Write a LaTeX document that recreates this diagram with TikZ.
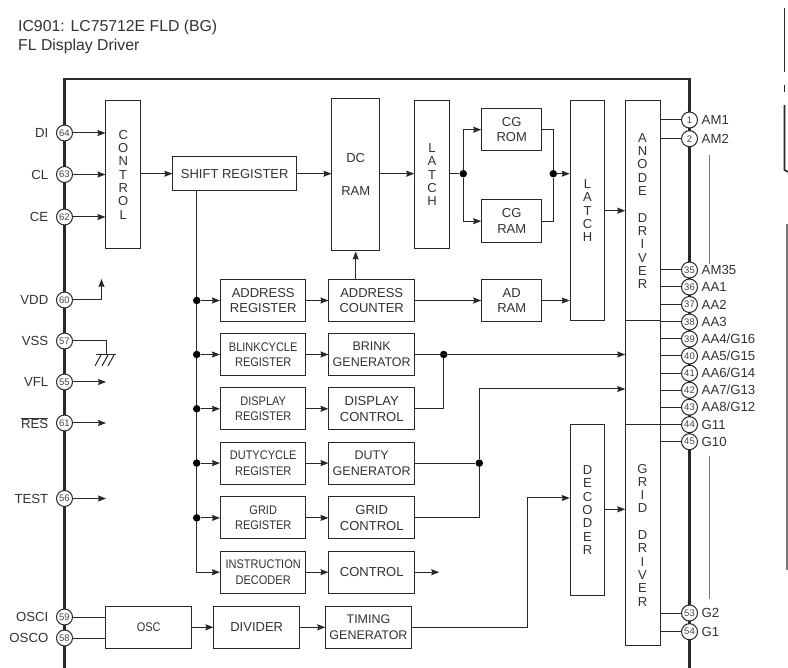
\documentclass[tikz,border=0pt]{standalone}
\usepackage{fontspec}
\setmainfont{Liberation Sans}
\newfontfamily\estreito[FakeStretch=0.88]{Liberation Sans}
\usepackage{tikz}
\usetikzlibrary{arrows.meta,positioning,calc}
\definecolor{ChipInk}{RGB}{40,40,40}
\definecolor{ChipText}{RGB}{50,50,50}
\definecolor{ChipPin}{RGB}{70,70,70}
\definecolor{ChipEdge}{RGB}{120,120,120}
\tikzset{
  bloco/.style={draw=ChipInk, line width=1pt, fill=white, align=center, inner sep=0pt,
                text=ChipText, font=\fontsize{13}{15.5}\selectfont, minimum width=85.5pt, minimum height=42pt},
  blocoger/.style={bloco, font=\fontsize{12.5}{15.5}\selectfont},
  blocoreg/.style={bloco, font=\estreito\fontsize{12.5}{15.5}\selectfont},
  blocoalto/.style={bloco, minimum width=34.5pt, font=\fontsize{13}{13.3}\selectfont},
  blocodriver/.style={draw=ChipInk, line width=1pt, fill=white, inner sep=0pt, minimum width=34.5pt},
  miolo/.style={align=center, inner sep=0pt, text=ChipText, font=\fontsize{13}{13.3}\selectfont},
  seta/.style={-{Stealth[length=8pt,width=6pt,inset=1pt]}, line width=1pt, ChipInk},
  fio/.style={line width=1pt, ChipInk},
  moldura/.style={line width=2.2pt, ChipInk},
  pino/.style={circle, draw=ChipInk, line width=1pt, fill=white, minimum size=16pt, inner sep=0pt,
               text=ChipPin, font=\fontsize{9.5}{10}\selectfont},
  rotulodir/.style={anchor=west, inner sep=0pt, text=ChipText, font=\fontsize{13.2}{14}\selectfont},
  rotuloesq/.style={anchor=east, inner sep=0pt, text=ChipText, font=\fontsize{13.2}{14}\selectfont},
  ponto/.style={circle, fill=black, minimum size=7.5pt, inner sep=0pt},
  titulo/.style={anchor=west, inner sep=0pt, text=ChipText, font=\fontsize{15.8}{18}\selectfont},
}
\begin{document}
\begin{tikzpicture}[x=1pt, y=-1pt, node distance=11.3pt and 22pt]
  \useasboundingbox (0,0) rectangle (788,668);

  % Titulo
  \node[titulo] (tituloA) at (18,27.5) {IC901: LC75712E FLD (BG)};
  \node[titulo] (tituloB) at (18,46.5) {FL Display Driver};

  % Moldura do chip
  \coordinate (cantoA) at (64.5,668);
  \coordinate (cantoB) at (64.5,79);
  \coordinate (cantoC) at (689.5,79);
  \coordinate (cantoD) at (689.5,668);
  \draw[moldura] (cantoA) -- (cantoB) -- (cantoC) -- (cantoD);

  % Restos da pagina vizinha
  \draw[line width=1.6pt, ChipInk] (784.5,8) -- (784.5,72);
  \draw[line width=1.6pt, ChipInk] (784.5,85) -- (784.5,92);
  \draw[line width=1.6pt, ChipInk] (784.5,105) -- (784.5,170) -- (788,172);
  \draw[line width=1.2pt, ChipEdge] (787,224) -- (787,570)
    (787,249) -- (788,249) (787,289) -- (788,289) (787,329) -- (788,329) (787,369) -- (788,369)
    (787,409) -- (788,409) (787,449) -- (788,449) (787,489) -- (788,489) (787,529) -- (788,529);

  % Pinos esquerdos
  \node[pino] (pinDI) at (64.5,133) {64};
  \node[pino] (pinCL) at (64.5,174.5) {63};
  \node[pino] (pinCE) at (64.5,217) {62};
  \node[pino] (pinVDD) at (64.5,300) {60};
  \node[pino] (pinVSS) at (64.5,341) {57};
  \node[pino] (pinVFL) at (64.5,382) {55};
  \node[pino] (pinRES) at (64.5,423) {61};
  \node[pino] (pinTEST) at (64.5,498.5) {56};
  \node[pino] (pinOSCI) at (64.5,617) {59};
  \node[pino] (pinOSCO) at (64.5,638) {58};
  \node[rotuloesq, left=7.5pt of pinDI] (nomeDI) {DI};
  \node[rotuloesq, left=7.5pt of pinCL] (nomeCL) {CL};
  \node[rotuloesq, left=7.5pt of pinCE] (nomeCE) {CE};
  \node[rotuloesq, left=7.5pt of pinVDD] (nomeVDD) {VDD};
  \node[rotuloesq, left=7.5pt of pinVSS] (nomeVSS) {VSS};
  \node[rotuloesq, left=7.5pt of pinVFL] (nomeVFL) {VFL};
  \node[rotuloesq, left=7.5pt of pinRES] (nomeRES) {$\overline{\mbox{RES}}$};
  \node[rotuloesq, left=7.5pt of pinTEST] (nomeTEST) {TEST};
  \node[rotuloesq, left=7.5pt of pinOSCI] (nomeOSCI) {OSCI};
  \node[rotuloesq, left=7.5pt of pinOSCO] (nomeOSCO) {OSCO};

  % Pinos direitos
  \node[pino] (pinAMa) at (689.5,120) {1};
  \node[pino] (pinAMb) at (689.5,138.7) {2};
  \node[pino] (pinAMz) at (689.5,270) {35};
  \node[pino] (pinAAa) at (689.5,287) {36};
  \node[pino] (pinAAb) at (689.5,304.5) {37};
  \node[pino] (pinAAc) at (689.5,322) {38};
  \node[pino] (pinAAd) at (689.5,339) {39};
  \node[pino] (pinAAe) at (689.5,356) {40};
  \node[pino] (pinAAf) at (689.5,373.2) {41};
  \node[pino] (pinAAg) at (689.5,390.2) {42};
  \node[pino] (pinAAh) at (689.5,407.2) {43};
  \node[pino] (pinGk) at (689.5,424.7) {44};
  \node[pino] (pinGj) at (689.5,441.7) {45};
  \node[pino] (pinGb) at (689.5,613) {53};
  \node[pino] (pinGa) at (689.5,631.7) {54};
  \node[rotulodir, right=3.5pt of pinAMa] (nomeAMa) {AM1};
  \node[rotulodir, right=3.5pt of pinAMb] (nomeAMb) {AM2};
  \node[rotulodir, right=3.5pt of pinAMz] (nomeAMz) {AM35};
  \node[rotulodir, right=3.5pt of pinAAa] (nomeAAa) {AA1};
  \node[rotulodir, right=3.5pt of pinAAb] (nomeAAb) {AA2};
  \node[rotulodir, right=3.5pt of pinAAc] (nomeAAc) {AA3};
  \node[rotulodir, right=3.5pt of pinAAd] (nomeAAd) {AA4/G16};
  \node[rotulodir, right=3.5pt of pinAAe] (nomeAAe) {AA5/G15};
  \node[rotulodir, right=3.5pt of pinAAf] (nomeAAf) {AA6/G14};
  \node[rotulodir, right=3.5pt of pinAAg] (nomeAAg) {AA7/G13};
  \node[rotulodir, right=3.5pt of pinAAh] (nomeAAh) {AA8/G12};
  \node[rotulodir, right=3.5pt of pinGk] (nomeGk) {G11};
  \node[rotulodir, right=3.5pt of pinGj] (nomeGj) {G10};
  \node[rotulodir, right=3.5pt of pinGb] (nomeGb) {G2};
  \node[rotulodir, right=3.5pt of pinGa] (nomeGa) {G1};

  % Linha superior
  \node[blocoalto, minimum height=148.5pt] (control) at (123.2,174.7)
    {C\\O\\N\\T\\R\\O\\L};
  \node[bloco, minimum width=123.5pt, minimum height=34.5pt] (shift) at (234.7,173.7) {SHIFT REGISTER};
  \node[bloco, minimum width=47.5pt, minimum height=152.5pt] (dcram) at (355.7,174.7)
    {DC\\[17pt]RAM};
  \node[blocoalto, minimum height=148.5pt] (latchA) at (432,174.7)
    {L\\A\\T\\C\\H};
  \node[bloco, minimum width=60pt, minimum height=42.5pt] (cgrom) at (511.7,129.7) {CG\\ROM};
  \node[bloco, minimum width=60pt, minimum height=42.5pt] (cgram) at (511.7,221.2) {CG\\RAM};
  \node[blocoalto, minimum height=220.5pt] (latchB) at (587.5,210.7)
    {L\\A\\T\\C\\H};

  % Coluna dos registradores
  \node[bloco] (addrReg) at (263.2,300.5) {ADDRESS\\REGISTER};
  \node[bloco, right=of addrReg] (addrCnt) {ADDRESS\\COUNTER};
  \node[blocoreg] (blinkReg) at (263.2,354.5) {BLINKCYCLE\\REGISTER};
  \node[blocoger, right=of blinkReg] (brink) {BRINK\\GENERATOR};
  \node[blocoreg, below=of blinkReg] (dispReg) {DISPLAY\\REGISTER};
  \node[bloco, right=of dispReg] (dispCtl) {DISPLAY\\CONTROL};
  \node[blocoreg, below=of dispReg] (dutyReg) {DUTYCYCLE\\REGISTER};
  \node[blocoger, right=of dutyReg] (duty) {DUTY\\GENERATOR};
  \node[blocoreg, below=of dutyReg, yshift=-0.5pt] (gridReg) {GRID\\REGISTER};
  \node[bloco, right=of gridReg] (gridCtl) {GRID\\CONTROL};
  \node[blocoreg, below=of gridReg] (instr) {INSTRUCTION\\DECODER};
  \node[bloco, right=of instr] (ctl) {CONTROL};
  \node[bloco, minimum width=60pt] (adram) at (511.7,300.5) {AD\\RAM};

  % Linha inferior
  \node[blocoreg] (osc) at (148.7,627.3) {OSC};
  \node[bloco, right=21.5pt of osc] (divider) {DIVIDER};
  \node[blocoger, right=25.3pt of divider] (timing) {TIMING\\GENERATOR};

  % Drivers
  \node[blocodriver, minimum height=220.5pt] (anodeBox) at (643,210.7) {};
  \node[blocodriver, minimum height=103.7pt] (midBox) at (643,372.85) {};
  \node[blocodriver, minimum height=220.3pt] (gridBox) at (643,534.85) {};
  \node[miolo] (anodeTxt) at (642.5,211) {A\\N\\O\\D\\E\\[13.3pt]D\\R\\I\\V\\E\\R};
  \node[miolo] (gridTxt) at (642.5,535) {G\\R\\I\\D\\[13.3pt]D\\R\\I\\V\\E\\R};
  \node[blocoalto, minimum height=170.6pt] (decoder) at (587.5,510) {D\\E\\C\\O\\D\\E\\R};

  % Setas de entrada
  \draw[seta] (pinDI) -- (pinDI -| control.west);
  \draw[seta] (pinCL) -- (pinCL -| control.west);
  \draw[seta] (pinCE) -- (pinCE -| control.west);
  \draw[seta] (pinVDD) -- (101.5,300) -- (101.5,279);
  \draw[fio] (pinVSS) -- (106,341) -- (106,355);
  \draw[fio] (96,355) -- (116,355);
  \draw[fio] (101,355) -- (95,366);
  \draw[fio] (108,355) -- (102,366);
  \draw[fio] (114,355) -- (108,366);
  \draw[seta] (pinVFL) -- (106,382);
  \draw[seta] (pinRES) -- (106,423);
  \draw[seta] (pinTEST) -- (106,498.5);
  \draw[fio] (pinOSCI) -- (pinOSCI -| osc.west);
  \draw[fio] (pinOSCO) -- (pinOSCO -| osc.west);

  % Caminho de dados
  \draw[seta] (control.east |- shift) -- (shift.west);
  \draw[seta] (shift.east) -- (shift -| dcram.west);
  \draw[seta] (dcram.east |- shift) -- (shift -| latchA.west);
  \node[ponto] (nodoA) at (463.3,173.7) {};
  \node[ponto] (nodoB) at (553.3,173.7) {};
  \draw[fio] (latchA.east |- nodoA) -- (nodoA);
  \draw[seta] (nodoA) |- (cgrom.west);
  \draw[seta] (nodoA) |- (cgram.west);
  \draw[fio] (cgrom.east) -| (nodoB);
  \draw[fio] (cgram.east) -| (nodoB);
  \draw[seta] (nodoB) -- (nodoB -| latchB.west);
  \draw[seta] (latchB.east) -- (latchB.east -| anodeBox.west);
  \draw[seta] (addrCnt.north -| dcram) -- (dcram.south);
  \draw[seta] (addrReg) -- (addrCnt);
  \draw[seta] (addrCnt) -- (adram);
  \draw[seta] (adram) -- (adram -| latchB.west);

  % Barramento do registrador
  \coordinate (busFim) at ($(shift.south west)!0.195!(shift.south east)$);
  \draw[seta] (busFim) |- (instr.west);
  \node[ponto] (nodoAddr) at (busFim |- addrReg) {};
  \node[ponto] (nodoBlink) at (busFim |- blinkReg) {};
  \node[ponto] (nodoDisp) at (busFim |- dispReg) {};
  \node[ponto] (nodoDuty) at (busFim |- dutyReg) {};
  \node[ponto] (nodoGrid) at (busFim |- gridReg) {};
  \draw[seta] (nodoAddr) -- (addrReg);
  \draw[seta] (nodoBlink) -- (blinkReg);
  \draw[seta] (nodoDisp) -- (dispReg);
  \draw[seta] (nodoDuty) -- (dutyReg);
  \draw[seta] (nodoGrid) -- (gridReg);
  \draw[seta] (blinkReg) -- (brink);
  \draw[seta] (dispReg) -- (dispCtl);
  \draw[seta] (dutyReg) -- (duty);
  \draw[seta] (gridReg) -- (gridCtl);
  \draw[seta] (instr) -- (ctl);
  \coordinate (ctlFim) at (439.3,572.7);
  \draw[seta] (ctl.east) -- (ctl.east -| ctlFim);

  % Saidas para os drivers
  \coordinate (colBrink) at (443.7,0);
  \coordinate (colDuty) at (479.3,0);
  \node[ponto] (nodoBrink) at (colBrink |- brink) {};
  \draw[seta] (brink) -- (brink -| midBox.west);
  \draw[fio] (dispCtl.east) -| (nodoBrink);
  \node[ponto] (nodoDutyOut) at (colDuty |- duty) {};
  \coordinate (dutyAlvo) at (midBox.west |- 0,389);
  \draw[fio] (duty.east) -- (nodoDutyOut);
  \draw[seta] (nodoDutyOut) |- (dutyAlvo);
  \draw[fio] (gridCtl.east) -| (nodoDutyOut);

  % Oscilador
  \draw[seta] (osc) -- (divider);
  \draw[seta] (divider) -- (timing);
  \coordinate (decAlvo) at (decoder.west |- 0,498);
  \coordinate (decCanto) at (527.3,627.3);
  \draw[seta] (timing.east) -- (decCanto) |- (decAlvo);
  \coordinate (decSai) at (decoder.east |- 0,509.3);
  \draw[seta] (decSai) -- (decSai -| gridBox.west);

  % Saidas dos drivers
  \draw[fio] (pinAMa) -- (pinAMa -| anodeBox.east);
  \draw[fio] (pinAMb) -- (pinAMb -| anodeBox.east);
  \draw[fio] (pinAMz) -- (pinAMz -| anodeBox.east);
  \draw[fio] (pinAAa) -- (pinAAa -| anodeBox.east);
  \draw[fio] (pinAAb) -- (pinAAb -| anodeBox.east);
  \draw[fio] (pinAAc) -- (pinAAc -| anodeBox.east);
  \draw[fio] (pinAAd) -- (pinAAd -| midBox.east);
  \draw[fio] (pinAAe) -- (pinAAe -| midBox.east);
  \draw[fio] (pinAAf) -- (pinAAf -| midBox.east);
  \draw[fio] (pinAAg) -- (pinAAg -| midBox.east);
  \draw[fio] (pinAAh) -- (pinAAh -| midBox.east);
  \draw[fio] (pinGk) -- (pinGk -| midBox.east);
  \draw[fio] (pinGj) -- (pinGj -| gridBox.east);
  \draw[fio] (pinGb) -- (pinGb -| gridBox.east);
  \draw[fio] (pinGa) -- (pinGa -| gridBox.east);

  % Tracos de continuacao
  \draw[line width=1pt, ChipEdge] (709.3,155) -- (709.3,264);
  \draw[line width=1pt, ChipEdge] (709.3,456) -- (709.3,598.5);
\end{tikzpicture}
\end{document}
